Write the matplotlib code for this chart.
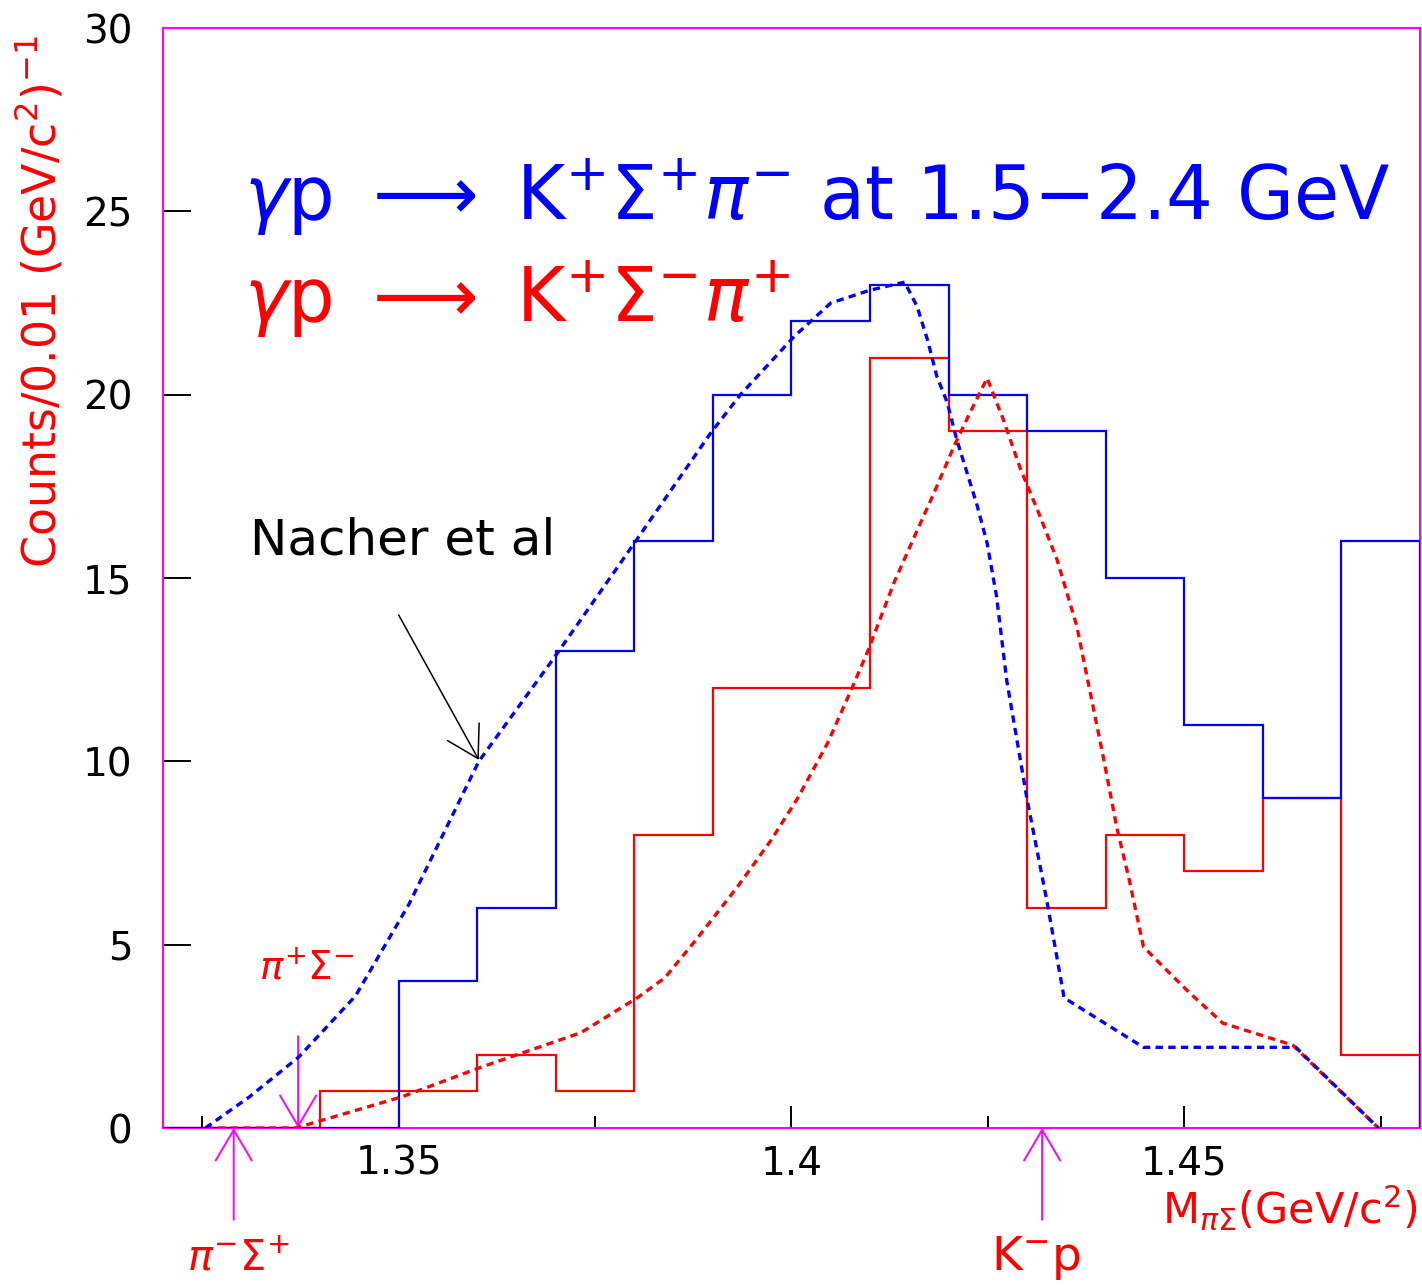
import matplotlib
matplotlib.use("Agg")
import matplotlib.pyplot as plt

# histogram bins, 0.01 GeV wide
edges = [1.32, 1.33, 1.34, 1.35, 1.36, 1.37, 1.38, 1.39, 1.40,
         1.41, 1.42, 1.43, 1.44, 1.45, 1.46, 1.47, 1.48]
counts_sp = [0, 0, 0, 4, 6, 13, 16, 20, 22, 23, 20, 19, 15, 11, 9, 16]  # K+ Sigma+ pi-
counts_sm = [0, 0, 1, 1, 2, 1, 8, 12, 12, 21, 19, 6, 8, 7, 9, 2]        # K+ Sigma- pi+

# Nacher et al curves
nach_sp_x = [1.3254, 1.3310, 1.3373, 1.3445, 1.3513, 1.3602, 1.3697, 1.3782, 1.3897,
             1.3935, 1.4004, 1.4050, 1.4100, 1.4144, 1.4160, 1.4173, 1.4185, 1.4198,
             1.4210, 1.4223, 1.4236, 1.4249, 1.4261, 1.4274, 1.4300, 1.4325, 1.4347,
             1.4448, 1.4642, 1.4747]
nach_sp_y = [0, 0.85, 1.94, 3.6, 6.1, 10.0, 12.8, 15.4, 18.95,
             20.0, 21.6, 22.5, 22.85, 23.07, 22.4, 21.5, 20.5, 19.8,
             18.8, 17.9, 17.0, 15.95, 14.5, 12.2, 8.95, 6.2, 3.55,
             2.2, 2.2, 0]
nach_sm_x = [1.3254, 1.3369, 1.3504, 1.3605, 1.3732, 1.3805, 1.3839, 1.3881, 1.3932,
             1.3974, 1.4008, 1.4046, 1.4075, 1.4097, 1.4131, 1.4160, 1.4181, 1.4207,
             1.4227, 1.4249, 1.4270, 1.4291, 1.4316, 1.4338, 1.4363, 1.4380, 1.4397,
             1.4414, 1.4430, 1.4448, 1.4473, 1.4506, 1.4549, 1.4638, 1.4747]
nach_sm_y = [0, 0, 0.85, 1.66, 2.6, 3.57, 4.1, 5.2, 6.6,
             7.85, 9.0, 10.5, 11.9, 13.0, 14.9, 16.3, 17.3, 18.6,
             19.5, 20.45, 19.3, 18.0, 16.7, 15.5, 13.7, 11.9, 10.1,
             8.2, 6.76, 4.94, 4.4, 3.7, 2.86, 2.26, 0]

# thresholds (GeV)
thr_pim_sp = 1.3290
thr_pip_sm = 1.3372
thr_kp = 1.4319

xticks = [1.35, 1.40, 1.45]
xtick_labels = ["1.35", "1.4", "1.45"]
xminor = [1.325, 1.375, 1.425, 1.475]
yticks = [0, 5, 10, 15, 20, 25, 30]

BLUE, RED, MAG = "#0000ff", "#ff0000", "#ff00ff"

plt.rcParams["mathtext.fontset"] = "dejavusans"

fig = plt.figure(figsize=(14.22, 12.86), dpi=100)
ax = fig.add_axes([163 / 1422, 1 - 1128 / 1286, 1257 / 1422, 1100 / 1286])

ax.stairs(counts_sm, edges, baseline=0, color=RED, lw=1.6, zorder=3)
ax.stairs(counts_sp, edges, baseline=0, color=BLUE, lw=1.6, zorder=4)
ax.plot(nach_sm_x, nach_sm_y, color=RED, lw=2.4, dashes=(2.2, 1.6), zorder=5)
ax.plot(nach_sp_x, nach_sp_y, color=BLUE, lw=2.4, dashes=(2.2, 1.6), zorder=6)

ax.set_xlim(1.32, 1.48)
ax.set_ylim(0, 30)
for s in ax.spines.values():
    s.set_color(MAG)
    s.set_linewidth(1.5)
ax.set_xticks(xticks)
ax.set_xticklabels(xtick_labels)
ax.set_xticks(xminor, minor=True)
ax.set_yticks(yticks)
ax.tick_params(axis="x", which="major", direction="in", length=16, width=1.4,
               color="k", labelsize=28, pad=12)
ax.tick_params(axis="x", which="minor", direction="in", length=8.5, width=1.4, color="k")
ax.tick_params(axis="y", which="major", direction="in", length=20, width=1.4,
               color="k", labelsize=28, pad=22)

ax.text(1.3303, 24.76,
        r"$\gamma\mathrm{p}\ \longrightarrow\ \mathrm{K}^{+}\Sigma^{+}\pi^{-}$ at 1.5$-$2.4 GeV",
        color=BLUE, fontsize=53, va="baseline", ha="left")
ax.text(1.3303, 21.98,
        r"$\gamma\mathrm{p}\ \longrightarrow\ \mathrm{K}^{+}\Sigma^{-}\pi^{+}$",
        color=RED, fontsize=53, va="baseline", ha="left")

ax.text(1.3311, 15.65, "Nacher et al", color="k", fontsize=36, va="baseline", ha="left")
ax.annotate("", xy=(1.3602, 10.04), xytext=(1.35, 13.99),
            arrowprops=dict(arrowstyle="->,head_length=22,head_width=13",
                            mutation_scale=1, color="k", lw=1.1,
                            shrinkA=0, shrinkB=0))

head = "->,head_length=22,head_width=13"
ax.annotate("", xy=(thr_pim_sp, 0), xytext=(thr_pim_sp, -2.5), annotation_clip=False,
            arrowprops=dict(arrowstyle=head, mutation_scale=1, color=MAG, lw=1.4,
                            shrinkA=0, shrinkB=0))
ax.annotate("", xy=(thr_pip_sm, 0), xytext=(thr_pip_sm, 2.5), annotation_clip=False,
            arrowprops=dict(arrowstyle=head, mutation_scale=1, color=MAG, lw=1.4,
                            shrinkA=0, shrinkB=0))
ax.annotate("", xy=(thr_kp, 0), xytext=(thr_kp, -2.5), annotation_clip=False,
            arrowprops=dict(arrowstyle=head, mutation_scale=1, color=MAG, lw=1.4,
                            shrinkA=0, shrinkB=0))

ax.text(1.3383, 4.35, r"$\pi^{+}\Sigma^{-}$", color=RED, fontsize=28, ha="center", va="center")
fig.text(238 / 1422, 1 - 1258 / 1286, r"$\pi^{-}\Sigma^{+}$", color=RED, fontsize=30,
         ha="center", va="center")
fig.text(1036 / 1422, 1 - 1258 / 1286, r"$\mathrm{K}^{-}\mathrm{p}$", color=RED, fontsize=34,
         ha="center", va="center")
fig.text(1418 / 1422, 1 - 1223 / 1286, r"$\mathrm{M}_{\pi\Sigma}$(GeV/c$^{2}$)", color=RED,
         fontsize=31, ha="right", va="baseline")

fig.text(40 / 1422, 1 - 302 / 1286, r"Counts/0.01 (GeV/c$^{2}$)$^{-1}$", color=RED,
         fontsize=33, rotation=90, ha="center", va="center")

fig.savefig("out.png", dpi=100)
